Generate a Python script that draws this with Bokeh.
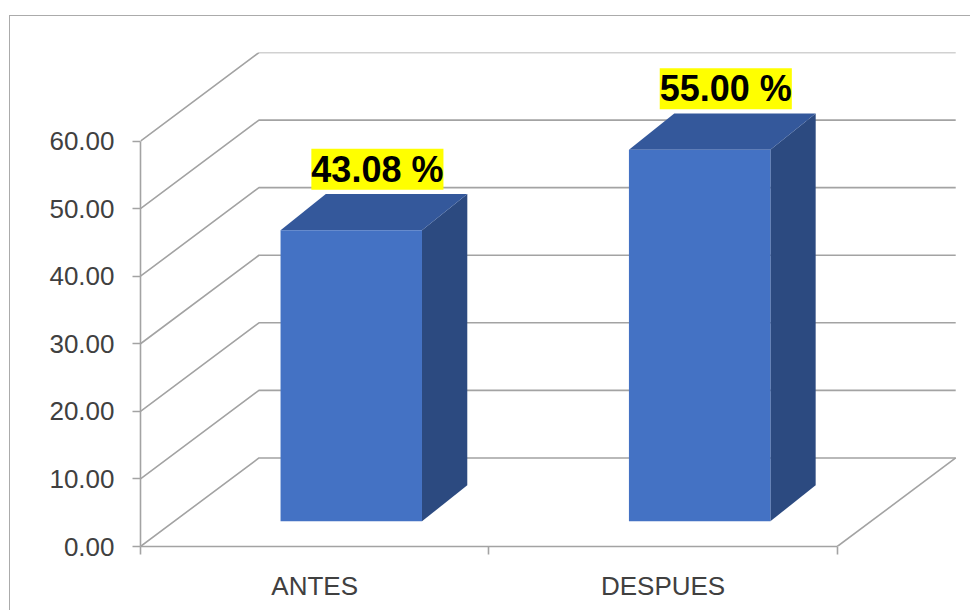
from bokeh.plotting import figure
from bokeh.models import Range1d, FixedTicker, ColumnDataSource, LabelSet, NumeralTickFormatter
from bokeh.core.properties import value
from bokeh.embed import file_html
from bokeh.resources import INLINE

categories = ["ANTES", "DESPUES"]
values = [43.08, 55.00]
value_labels = ["43.08 %", "55.00 %"]
y_ticks = [0, 10, 20, 30, 40, 50, 60]

# oblique 3D projection, expressed in data units
WALL_DX, WALL_DY = 0.34, 13.1      # depth of the back wall
BAR_OFF_X, BAR_OFF_Y = 0.105, 3.72  # front face of the bars sits a bit inside the floor
BAR_DX, BAR_DY = 0.13, 5.36         # depth of each bar
BAR_W = 0.406

GRID = "#a3a3a3"
FONT = "Liberation Sans"

p = figure(
    width=963, height=595,
    x_range=Range1d(0, 2.348), y_range=Range1d(0, 73.1),
    output_backend="svg", toolbar_location=None,
    min_border_left=130, min_border_right=15, min_border_top=36, min_border_bottom=65,
    styles={"margin-left": "9px", "margin-top": "15px",
            "border-top": "1px solid #ababab", "border-left": "1px solid #ababab"},
)
p.outline_line_color = None
p.xgrid.visible = False
p.ygrid.visible = False
p.background_fill_color = "white"

# walls: diagonal on the side wall + horizontal on the back wall for every tick
xs, ys = [], []
n_cat = len(categories)
for t in y_ticks:
    xs.append([0, WALL_DX, n_cat + WALL_DX])
    ys.append([t, t + WALL_DY, t + WALL_DY])
# right edge of the floor
xs.append([n_cat, n_cat + WALL_DX])
ys.append([0, WALL_DY])
p.multi_line(xs, ys, line_color=GRID, line_width=1.6)

# bars
left = [i + 0.5 - BAR_W / 2 + BAR_OFF_X for i in range(n_cat)]
right = [l + BAR_W for l in left]
bottom = [BAR_OFF_Y] * n_cat
top = [v + BAR_OFF_Y for v in values]

side_xs = [[r, r + BAR_DX, r + BAR_DX, r] for r in right]
side_ys = [[b, b + BAR_DY, t + BAR_DY, t] for b, t in zip(bottom, top)]
top_xs = [[l, r, r + BAR_DX, l + BAR_DX] for l, r in zip(left, right)]
top_ys = [[t, t, t + BAR_DY, t + BAR_DY] for t in top]

p.patches(side_xs, side_ys, fill_color="#2c4a80", line_color=None)
p.patches(top_xs, top_ys, fill_color="#34589b", line_color=None)
p.quad(left=left, right=right, bottom=bottom, top=top, fill_color="#4472c4", line_color=None)

# value labels
src = ColumnDataSource(dict(
    x=[i + 0.5 + 0.18 for i in range(n_cat)],
    y=[v + 9.7 for v in values],
    text=value_labels,
))
p.add_layout(LabelSet(
    x="x", y="y", text="text", source=src,
    text_align="center", text_baseline="bottom",
    text_font=value(FONT), text_font_size="36px", text_font_style="bold",
    text_color="black", background_fill_color="#ffff00",
))

# y axis
ya = p.yaxis[0]
ya.ticker = FixedTicker(ticks=y_ticks, minor_ticks=[])
ya.formatter = NumeralTickFormatter(format="0.00")
ya.bounds = (0, 60)
ya.axis_line_color = GRID
ya.axis_line_width = 1.6
ya.major_tick_line_color = GRID
ya.major_tick_line_width = 1.6
ya.major_tick_in = 0
ya.major_tick_out = 8
ya.major_label_standoff = 18
ya.major_label_text_font = FONT
ya.major_label_text_font_size = "26px"
ya.major_label_text_color = "#404040"

# x axis: category names between tick marks
xa = p.xaxis[0]
xa.ticker = FixedTicker(ticks=[i + 0.5 for i in range(n_cat)], minor_ticks=list(range(n_cat + 1)))
xa.major_label_overrides = {i + 0.5: c for i, c in enumerate(categories)}
xa.bounds = (0, n_cat)
xa.axis_line_color = GRID
xa.axis_line_width = 1.6
xa.major_tick_line_color = None
xa.major_tick_in = 0
xa.major_tick_out = 0
xa.minor_tick_line_color = GRID
xa.minor_tick_line_width = 1.6
xa.minor_tick_in = 0
xa.minor_tick_out = 8
xa.major_label_standoff = 16
xa.major_label_text_font = FONT
xa.major_label_text_font_size = "26px"
xa.major_label_text_color = "#404040"

open("out.html", "w").write(file_html(p, INLINE))
